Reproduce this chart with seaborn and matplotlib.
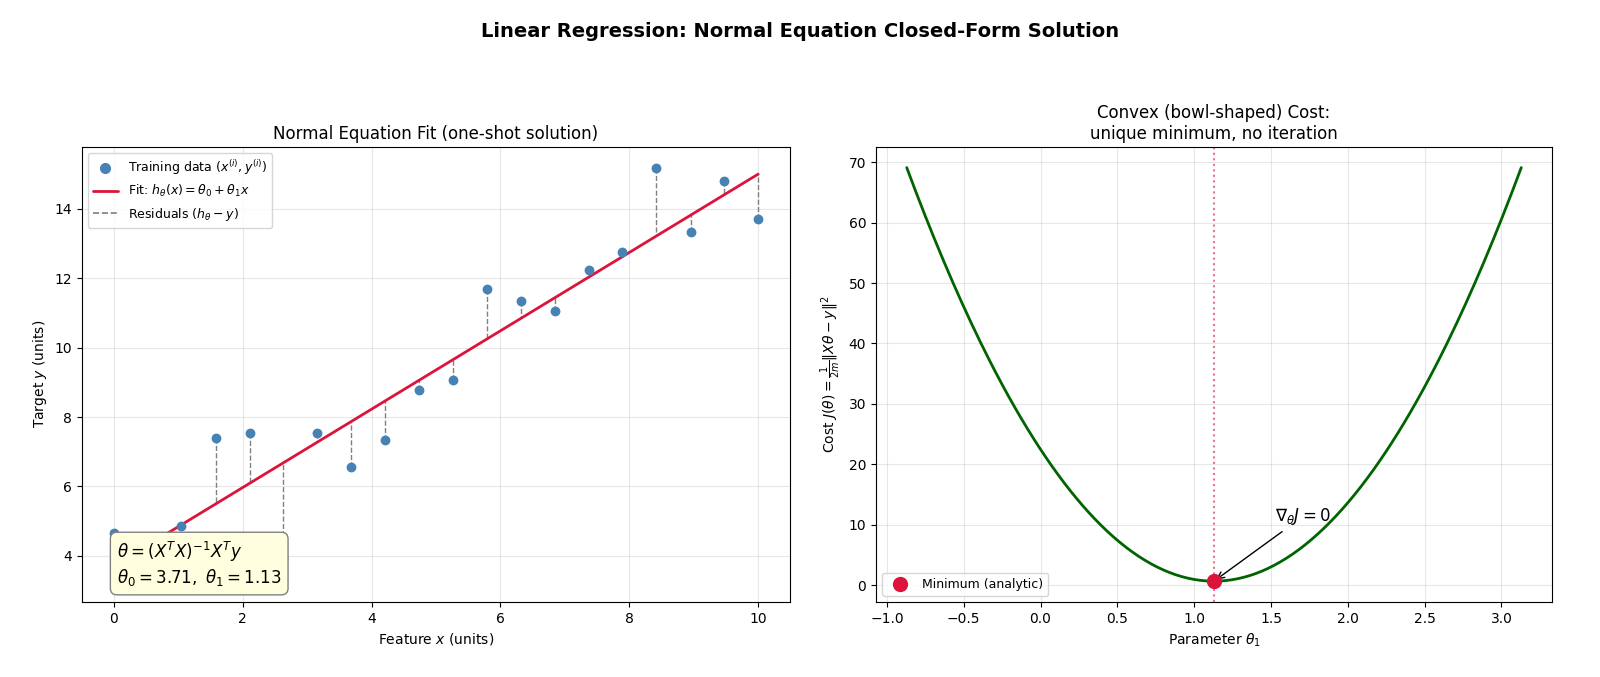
import numpy as np
import pandas as pd
import seaborn as sns
import matplotlib
matplotlib.use("Agg")
import matplotlib.pyplot as plt
from matplotlib.lines import Line2D

# training data
x_vals = [0.00, 0.53, 1.05, 1.58, 2.11, 2.63, 3.16, 3.68, 4.21, 4.74,
          5.26, 5.79, 6.32, 6.84, 7.37, 7.89, 8.42, 8.95, 9.47, 10.00]
y_vals = [4.67, 3.27, 4.85, 7.41, 7.55, 3.95, 7.53, 6.57, 7.33, 8.78,
          9.06, 11.70, 11.35, 11.07, 12.25, 12.77, 15.19, 13.32, 14.79, 13.72]

sns.set_style("ticks")
plt.rcParams["font.family"] = ["DejaVu Sans"]
for key in ["axes.edgecolor", "xtick.color", "ytick.color", "text.color", "axes.labelcolor"]:
    plt.rcParams[key] = "black"
plt.rcParams["grid.color"] = "#b0b0b0"


def normal_equation(x, y):
    X = np.column_stack([np.ones_like(x), x])
    return np.linalg.inv(X.T @ X) @ X.T @ y


x = np.array(x_vals)
y = np.array(y_vals)
theta = normal_equation(x, y)
theta0, theta1 = theta
m = len(x)

fit_df = pd.DataFrame({"x": [x.min(), x.max()]})
fit_df["y"] = theta0 + theta1 * fit_df["x"]
y_hat = theta0 + theta1 * x

# cost along theta1 with theta0 fixed
t1_grid = np.linspace(theta1 - 2, theta1 + 2, 200)
X = np.column_stack([np.ones_like(x), x])
cost = [np.sum((X @ np.array([theta0, t]) - y) ** 2) / (2 * m) for t in t1_grid]
cost_df = pd.DataFrame({"theta1": t1_grid, "cost": cost})
j_min = np.sum((y_hat - y) ** 2) / (2 * m)

fig = plt.figure(figsize=(16, 6.77), dpi=100)
ax1 = fig.add_axes([0.051, 0.111, 0.443, 0.672])
ax2 = fig.add_axes([0.5475, 0.111, 0.4225, 0.672])

# left panel: data + fit + residuals
ax1.vlines(x, y, y_hat, colors="gray", linestyles="--", linewidth=1, zorder=1)
sns.lineplot(data=fit_df, x="x", y="y", ax=ax1, color="crimson", linewidth=2, zorder=2)
sns.scatterplot(x=x, y=y, ax=ax1, color="steelblue", s=50, linewidth=0, zorder=3)
handles = [
    Line2D([], [], marker="o", linestyle="none", color="steelblue", markersize=7),
    Line2D([], [], color="crimson", linewidth=2),
    Line2D([], [], color="gray", linestyle="--", linewidth=1.2),
]
labels = [r"Training data $(x^{(i)}, y^{(i)})$",
          r"Fit: $h_\theta(x) = \theta_0 + \theta_1 x$",
          r"Residuals $(h_\theta - y)$"]
ax1.legend(handles, labels, loc="upper left", fontsize=9)
ax1.text(0.05, 0.03,
         r"$\theta = (X^TX)^{-1}X^Ty$" + "\n" + rf"$\theta_0 = {theta0:.2f},\ \theta_1 = {theta1:.2f}$",
         transform=ax1.transAxes, fontsize=12, va="bottom", ha="left", zorder=5,
         bbox=dict(boxstyle="round,pad=0.4", facecolor="lightyellow", edgecolor="gray", alpha=1.0))
ax1.set_title("Normal Equation Fit (one-shot solution)", fontsize=12)
ax1.set_xlabel(r"Feature $x$ (units)", fontsize=10)
ax1.set_ylabel(r"Target $y$ (units)", fontsize=10)
ax1.grid(True, alpha=0.3)

# right panel: convex cost
sns.lineplot(data=cost_df, x="theta1", y="cost", ax=ax2, color="darkgreen", linewidth=2)
ax2.axvline(theta1, color="crimson", linestyle=":", alpha=0.6, linewidth=1.5)
ax2.scatter([theta1], [j_min], color="crimson", s=100, zorder=5, label="Minimum (analytic)")
ax2.annotate(r"$\nabla_\theta J = 0$", xy=(theta1, j_min), xytext=(theta1 + 0.4, j_min + 10),
             fontsize=12, arrowprops=dict(arrowstyle="->", color="black"))
ax2.legend(loc="lower left", fontsize=9)
ax2.set_title("Convex (bowl-shaped) Cost:\nunique minimum, no iteration", fontsize=12)
ax2.set_xlabel(r"Parameter $\theta_1$", fontsize=10)
ax2.set_ylabel(r"Cost $J(\theta) = \frac{1}{2m}\|X\theta - y\|^2$", fontsize=10)
ax2.grid(True, alpha=0.3)

fig.suptitle("Linear Regression: Normal Equation Closed-Form Solution",
             fontsize=14, fontweight="bold", y=0.968)

plt.savefig("out.png", dpi=100)
